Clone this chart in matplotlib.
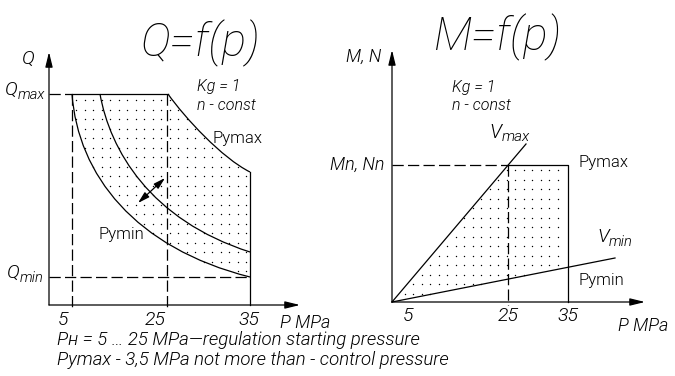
import matplotlib
matplotlib.use("Agg")
import matplotlib.pyplot as plt
import numpy as np
from matplotlib.path import Path
from matplotlib.patches import PathPatch

plt.rcParams['font.family'] = ['Roboto', 'DejaVu Sans']
plt.rcParams['font.weight'] = 300

# drawing units = pixels of the 675x376 sheet, y going down
# ---- left chart Q=f(p)
q_axis = (49, 305)                # origin of left chart
q_x_end, q_y_end = 300, 52
q_p_ticks = [72, 167, 250]        # positions of 5, 25, 35 MPa
q_p_labels = ['5', '25', '35']
q_max_y, q_min_y = 94, 277
# Bezier curves (start, ctrl1, ctrl2, end)
pymax_curve = [(168, 94), (185, 118), (222, 158), (250, 172)]
mid_curve = [(100, 94), (110, 150), (150, 220), (250, 252)]
pymin_curve = [(72, 94), (78, 175), (135, 248), (250, 277)]
q_arrow = [(138, 203), (165, 178)]

# ---- right chart M=f(p)
m_axis = (392, 302)
m_x_end, m_y_end = 645, 50
m_p_ticks = [408, 508, 568]
m_p_labels = ['5', '25', '35']
m_n_y = 165
vmax_end = (526, 144)
vmin_end = (615, 258)
vmin_at_35 = 267

fig = plt.figure(figsize=(6.75, 3.76), dpi=100)
ax = fig.add_axes([0, 0, 1, 1])
ax.set_xlim(0, 675)
ax.set_ylim(376, 0)
ax.axis('off')

lw = 0.9
dash = (0, (9, 3.4))
arr = dict(arrowstyle='-|>,head_length=0.9,head_width=0.22', lw=lw, color='k',
           shrinkA=0, shrinkB=0)
it = dict(style='italic')


def bez(pts):
    return pts, [Path.MOVETO, Path.CURVE4, Path.CURVE4, Path.CURVE4]


def dots(path, x0, x1, y0, y1, dx=8.5, dy=9.5):
    gx, gy = np.meshgrid(np.arange(x0, x1, dx), np.arange(y0, y1, dy))
    pts = np.c_[gx.ravel(), gy.ravel()]
    inside = path.contains_points(pts)
    ax.scatter(pts[inside, 0], pts[inside, 1], s=1.0, c='k', linewidths=0, zorder=1)


def sub_label(x, y, main, low, fs):
    t = ax.text(x, y, main, fontsize=fs, va='center', ha='left', **it)
    ax.annotate(low, xy=(1.0, 0.22), xycoords=t, fontsize=fs * 0.76, va='center',
                ha='left', xytext=(0.2, 0), textcoords='offset points', **it)


# ================= left chart =================
ox, oy = q_axis
ax.annotate('', xy=(ox, q_y_end), xytext=(ox, oy), arrowprops=arr)
ax.annotate('', xy=(q_x_end, oy), xytext=(ox, oy), arrowprops=arr)

ax.plot([ox, q_p_ticks[0]], [q_max_y, q_max_y], 'k', lw=lw, ls=dash)
ax.plot([q_p_ticks[0], pymax_curve[0][0]], [q_max_y, q_max_y], 'k', lw=lw)
ax.plot([ox, q_p_ticks[2]], [q_min_y, q_min_y], 'k', lw=lw, ls=dash)
for xp in q_p_ticks[:2]:
    ax.plot([xp, xp], [q_max_y, oy + 3], 'k', lw=lw, ls=dash)
ax.plot([q_p_ticks[2], q_p_ticks[2]], [pymax_curve[-1][1], oy], 'k', lw=lw)

for c in (pymax_curve, mid_curve, pymin_curve):
    v, cd = bez(c)
    ax.add_patch(PathPatch(Path(v, cd), fill=False, lw=lw, ec='k'))

ax.annotate('', xy=q_arrow[1], xytext=q_arrow[0],
            arrowprops=dict(arrowstyle='<|-|>,head_length=0.7,head_width=0.2', lw=lw,
                            color='k', shrinkA=0, shrinkB=0))

reg_v = [pymin_curve[0], pymax_curve[0]] + pymax_curve[1:] + \
        [(q_p_ticks[2], q_min_y)] + pymin_curve[::-1][1:] + [pymin_curve[0]]
reg_c = [Path.MOVETO, Path.LINETO, Path.CURVE4, Path.CURVE4, Path.CURVE4,
         Path.LINETO, Path.CURVE4, Path.CURVE4, Path.CURVE4, Path.CLOSEPOLY]
dots(Path(reg_v, reg_c), 76, 248, 100, 276)

ax.text(200, 43, 'Q=f(p)', fontsize=33, style='italic', fontweight=100,
        ha='center', va='center')
ax.text(28, 59, 'Q', fontsize=14, ha='center', va='center', **it)
sub_label(5, 90, 'Q', 'max', 14)
sub_label(7, 273, 'Q', 'min', 14)
ax.text(197, 86, 'Kg = 1', fontsize=11.5, va='center', **it)
ax.text(197, 105, 'n - const', fontsize=11.5, va='center', **it)
ax.text(212, 138, 'Pymax', fontsize=12, va='center')
ax.text(99, 234, 'Pymin', fontsize=12, va='center')
for xp, lab in zip([63, 155, 249], q_p_labels):
    ax.text(xp, 320, lab, fontsize=14, ha='center', va='center', **it)
ax.text(280, 323, 'P MPa', fontsize=13, va='center', **it)

# ================= right chart =================
ox, oy = m_axis
ax.annotate('', xy=(ox, m_y_end), xytext=(ox, oy), arrowprops=arr)
ax.annotate('', xy=(m_x_end, oy), xytext=(ox, oy), arrowprops=arr)

ax.plot([ox, m_p_ticks[1]], [m_n_y, m_n_y], 'k', lw=lw, ls=dash)
ax.plot([m_p_ticks[1], m_p_ticks[2], m_p_ticks[2]], [m_n_y, m_n_y, oy], 'k', lw=lw)
ax.plot([m_p_ticks[1], m_p_ticks[1]], [m_n_y, oy + 3], 'k', lw=lw, ls=dash)
ax.plot([ox, vmax_end[0]], [oy, vmax_end[1]], 'k', lw=lw)
ax.plot([ox, vmin_end[0]], [oy, vmin_end[1]], 'k', lw=lw)

vmax_at_n = ox + (vmax_end[0] - ox) * (oy - m_n_y) / (oy - vmax_end[1])
dots(Path([(ox, oy), (vmax_at_n, m_n_y), (m_p_ticks[2], m_n_y),
           (m_p_ticks[2], vmin_at_35), (ox, oy)]), 396, 566, 170, 300, dx=8.5, dy=9.5)

ax.text(498, 37, 'M=f(p)', fontsize=33, style='italic', fontweight=100,
        ha='center', va='center')
ax.text(364, 57, 'M, N', fontsize=13, ha='center', va='center', **it)
ax.text(357, 165, 'Mn, Nn', fontsize=13, ha='center', va='center', **it)
ax.text(452, 87, 'Kg = 1', fontsize=11.5, va='center', **it)
ax.text(452, 105, 'n - const', fontsize=11.5, va='center', **it)
sub_label(489, 132, 'V', 'max', 14.5)
sub_label(597, 237, 'V', 'min', 14)
ax.text(578, 163, 'Pymax', fontsize=12, va='center')
ax.text(578, 280, 'Pymin', fontsize=12, va='center')
for xp, lab in zip(m_p_ticks, m_p_labels):
    ax.text(xp, 316, lab, fontsize=14, ha='center', va='center', **it)
ax.text(618, 326, 'P MPa', fontsize=13, va='center', **it)

# ================= notes =================
ax.text(57, 340, 'Pн = 5 … 25 MPa—regulation starting pressure', fontsize=13.4,
        va='center', **it)
ax.text(57, 360, 'Pymax - 3,5 MPa not more than - control pressure', fontsize=13.4,
        va='center', **it)

fig.savefig('out.png', dpi=100)
